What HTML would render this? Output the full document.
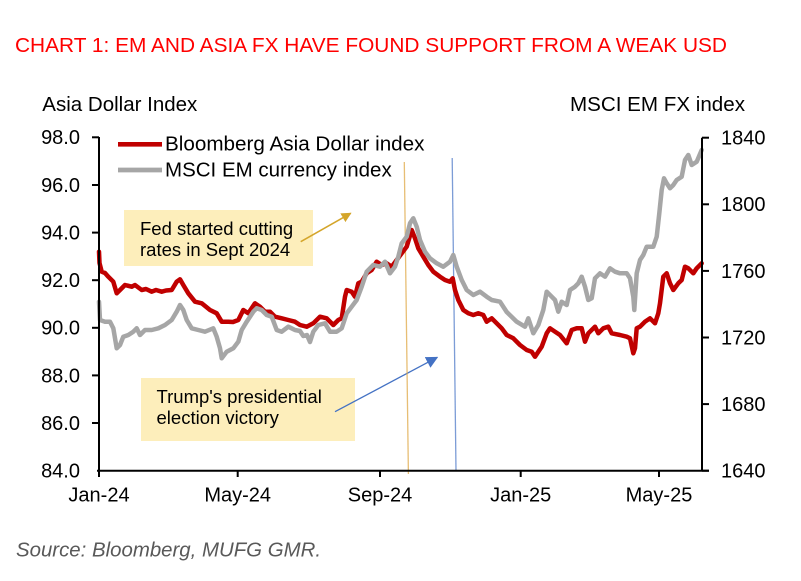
<!DOCTYPE html>
<html>
<head>
<meta charset="utf-8">
<style>
  html, body { margin:0; padding:0; background:#ffffff; }
  body { width:801px; height:581px; overflow:hidden; }
  svg { display:block; }
  text { font-family: "Liberation Sans", Arial, sans-serif; }
</style>
</head>
<body>
<svg width="801" height="581" viewBox="0 0 801 581" xmlns="http://www.w3.org/2000/svg">
  <defs>
    <marker id="ahGold" markerWidth="10" markerHeight="10" refX="9" refY="5" orient="auto" markerUnits="userSpaceOnUse">
      <path d="M0,0 L10,5 L0,10 z" fill="#d4a52a"/>
    </marker>
    <marker id="ahBlue" markerWidth="12" markerHeight="12" refX="11" refY="6" orient="auto" markerUnits="userSpaceOnUse">
      <path d="M0,0 L12,6 L0,12 z" fill="#4472c4"/>
    </marker>
  </defs>

  <!-- Title -->
  <text x="15" y="52" font-size="20.3" fill="#ff0000" textLength="712" lengthAdjust="spacingAndGlyphs">CHART 1: EM AND ASIA FX HAVE FOUND SUPPORT FROM A WEAK USD</text>

  <!-- Axis titles -->
  <text x="42.3" y="111" font-size="20" fill="#000" textLength="155" lengthAdjust="spacingAndGlyphs">Asia Dollar Index</text>
  <text x="570" y="111" font-size="20" fill="#000" textLength="175" lengthAdjust="spacingAndGlyphs">MSCI EM FX index</text>

  <!-- Annotation boxes -->
  <rect x="124" y="210" width="189" height="56" fill="#fdeebb"/>
  <text x="140" y="235" font-size="18.5" fill="#000">Fed started cutting</text>
  <text x="140" y="256" font-size="18.5" fill="#000">rates in Sept 2024</text>

  <rect x="141" y="378" width="214" height="63" fill="#fdeebb"/>
  <text x="156.5" y="403" font-size="18.5" fill="#000">Trump's presidential</text>
  <text x="156.5" y="424" font-size="18.5" fill="#000">election victory</text>

  <!-- Arrows -->
  <line x1="300.7" y1="241.7" x2="350.7" y2="213.3" stroke="#d4a52a" stroke-width="1.5" marker-end="url(#ahGold)"/>
  <line x1="335" y1="411.7" x2="437.3" y2="357.3" stroke="#4472c4" stroke-width="1.3" marker-end="url(#ahBlue)"/>

  <!-- Vertical event lines -->
  <line x1="404.3" y1="162" x2="408.4" y2="474" stroke="#dfa845" stroke-width="1.3" stroke-opacity="0.75"/>
  <line x1="452.2" y1="158" x2="456" y2="471" stroke="#4472c4" stroke-width="1.3" stroke-opacity="0.7"/>

  <!-- Red series: Bloomberg Asia Dollar index -->
  <polyline fill="none" stroke="#c00000" stroke-width="4.5" stroke-linejoin="round" stroke-linecap="round" points="
    99,251.7 99.5,263 101.7,271.7 105,273 108.3,276.7 113.3,281.7 116.7,293.3 120,290 125,285 131.7,286.7 135,285 141.7,290
    146,289 151.7,291.7 156,290 161.7,291.7 166,290.5 171.7,290 176.7,281.7 180,279.3 183.3,285 188.3,293.3 195,301.7 201.7,303.3
    210,310 216.7,313.3 221.7,321.7 228.3,321.7 233,322 238.3,320 243.3,310 248.3,313.3 255,303.3 260,306.7 265,311.7 270,311.7
    275,316.7 281.7,318.3 288.3,320 295,321.7 300,325 306.7,326.7 313.3,323.3 320,316.7 326.7,318.3 333.3,325 338.3,320
    341.7,318.3 345,296.7 346.7,290 351.7,291.7 355,296.7 358.3,283.3 361.7,281.7 366.7,273.3 371.7,270 376.7,261.7 381.7,265
    386.7,263.3 391.7,266.7 396.7,260 401.7,253.3 406.7,246.7 411.7,230 415,238.3 418.3,248.3 423.3,256.7 428.3,265 433.3,271.7
    440,276.7 445,280 450,281.7 452.7,278.3 455,290 458.3,300 463.3,310 468.3,313.3 473.3,315 478.3,313.3 483.3,315 486.7,321.7
    491.7,318.3 496.7,323.3 501.7,328.3 506.7,335 513.3,338.3 520,345 526.7,350 531.7,351.7 535,356.7 538.3,351.7 541.7,346.7
    546.7,333.3 550,328.3 555,331.7 560,335 566.7,343.3 571.7,330 576.7,328.3 581.7,328.3 585,341.7 588.3,333.3 595,326.7
    598.3,333.3 603.3,328.3 608.3,326.7 611.7,333.3 620,335 626.7,336.7 630,338.3 633.3,353.3 635,348.3 636.7,328.3 640,326.7
    645,321.7 650,318.3 655,323.3 658.3,313.3 660,303.3 663.3,276.7 666.7,273.3 670,283.3 673.3,290 678.3,283.3 681.7,280
    685,266.7 688.3,268.3 693.3,273.3 696.7,268.3 701.7,263.3"/>

  <!-- Gray series: MSCI EM currency index -->
  <polyline fill="none" stroke="#a6a6a6" stroke-width="4.5" stroke-linejoin="round" stroke-linecap="round" points="
    99,301.7 100,320 105,321.7 110,321.7 113.3,328.3 116.7,348.3 120,345 123.3,336.7 128.3,335 133.3,331.7 136.7,328.3 140,335
    145,330 151.7,330 158.3,328.3 165,325 171.7,320 176.7,311.7 180,305 183.3,310 186.7,320 191.7,328.3 198.3,330 205,331.7
    213.3,328.3 216.7,336.7 220,348.3 221.7,358.3 226.7,351.7 233.3,348.3 238.3,341.7 241.7,330 246.7,321.7 253.3,311.7
    256.7,308.3 261.7,310 266.7,315 271.7,316.7 276.7,330 281.7,331.7 288.3,326.7 295,330 300,331 303.3,336 307,335 310,342
    313.3,331.7 318.3,325 325,323.3 330,331.7 336.7,331.7 341.7,328.3 346.7,313.3 351.7,306.7 356.7,300 361.7,286.7 366.7,271.7
    373.3,265 380,266.7 385,261.7 390,273.3 395,266.7 398.3,256.7 401.7,243.3 406.7,236.7 410,223.3 413.3,218.3 416.7,226.7
    420,240 425,251.7 430,258.3 436.7,263.3 443.3,266.7 450,261.7 453.3,255 456.7,266.7 461.7,280 466.7,290 473.3,295 480,291.7
    486.7,296.7 491.7,300 500,301.7 506.7,312 516.7,321.7 525,326.7 528.3,318.3 533.3,333.3 538.3,325 543.3,310 546.7,291.7
    551.7,296.7 555,300 558.3,311.7 561.7,301.7 566.7,305 570,290 575,286.7 578.3,283.3 581.7,276.7 585,286.7 588.3,300
    591.7,298.3 595,278.3 600,273.3 605,276.7 610,268.3 615,271.7 620,273.3 626.7,273.3 630,278.3 633.3,296.7 634.3,310
    636.7,273.3 640,260 643.3,255 646.7,246.7 653.3,246.7 656.7,236.7 659.3,213.3 661.7,190 664,178.3 666.7,183.3 670,188.3
    673.3,185 676.7,180 681.7,176.7 685,160 688.3,155 691.7,165 696.7,161.7 701.7,150"/>

  <!-- Legend -->
  <line x1="118" y1="144.3" x2="162" y2="144.3" stroke="#c00000" stroke-width="4.7"/>
  <text x="165" y="150.5" font-size="20" fill="#000" textLength="259.5" lengthAdjust="spacingAndGlyphs">Bloomberg Asia Dollar index</text>
  <line x1="118" y1="170" x2="162" y2="170" stroke="#a6a6a6" stroke-width="4.7"/>
  <text x="165" y="176.5" font-size="20" fill="#000" textLength="226.7" lengthAdjust="spacingAndGlyphs">MSCI EM currency index</text>

  <!-- Axes -->
  <g stroke="#000" stroke-width="2" fill="none">
    <line x1="99" y1="137" x2="99" y2="471"/>
    <line x1="702" y1="137.7" x2="702" y2="471"/>
    <line x1="97" y1="470.7" x2="709" y2="470.7"/>
    <!-- left ticks -->
    <line x1="92" y1="137.3" x2="99" y2="137.3"/>
    <line x1="92" y1="185" x2="99" y2="185"/>
    <line x1="92" y1="232.6" x2="99" y2="232.6"/>
    <line x1="92" y1="280.2" x2="99" y2="280.2"/>
    <line x1="92" y1="327.8" x2="99" y2="327.8"/>
    <line x1="92" y1="375.4" x2="99" y2="375.4"/>
    <line x1="92" y1="423" x2="99" y2="423"/>
    <!-- right ticks -->
    <line x1="702" y1="137.7" x2="709" y2="137.7"/>
    <line x1="702" y1="204.3" x2="709" y2="204.3"/>
    <line x1="702" y1="270.9" x2="709" y2="270.9"/>
    <line x1="702" y1="337.5" x2="709" y2="337.5"/>
    <line x1="702" y1="404.1" x2="709" y2="404.1"/>
    <line x1="702" y1="470.7" x2="709" y2="470.7"/>
    <!-- x ticks -->
    <line x1="99" y1="470.7" x2="99" y2="477"/>
    <line x1="237.7" y1="470.7" x2="237.7" y2="477"/>
    <line x1="380" y1="470.7" x2="380" y2="477"/>
    <line x1="520.7" y1="470.7" x2="520.7" y2="477"/>
    <line x1="659" y1="470.7" x2="659" y2="477"/>
  </g>

  <!-- Left tick labels -->
  <g font-size="20" fill="#000" text-anchor="end">
    <text x="80" y="144.2">98.0</text>
    <text x="80" y="191.9">96.0</text>
    <text x="80" y="239.5">94.0</text>
    <text x="80" y="287.1">92.0</text>
    <text x="80" y="334.7">90.0</text>
    <text x="80" y="382.3">88.0</text>
    <text x="80" y="429.9">86.0</text>
    <text x="80" y="477.6">84.0</text>
  </g>

  <!-- Right tick labels -->
  <g font-size="20" fill="#000">
    <text x="721" y="144.6">1840</text>
    <text x="721" y="211.2">1800</text>
    <text x="721" y="277.8">1760</text>
    <text x="721" y="344.4">1720</text>
    <text x="721" y="411">1680</text>
    <text x="721" y="477.6">1640</text>
  </g>

  <!-- X labels -->
  <g font-size="20" fill="#000" text-anchor="middle">
    <text x="99" y="501.7">Jan-24</text>
    <text x="237.7" y="501.7">May-24</text>
    <text x="380" y="501.7">Sep-24</text>
    <text x="520.7" y="501.7">Jan-25</text>
    <text x="659" y="501.7">May-25</text>
  </g>

  <!-- Source -->
  <text x="16" y="556.5" font-size="20" font-style="italic" fill="#595959" textLength="305" lengthAdjust="spacingAndGlyphs">Source: Bloomberg, MUFG GMR.</text>
</svg>
</body>
</html>
